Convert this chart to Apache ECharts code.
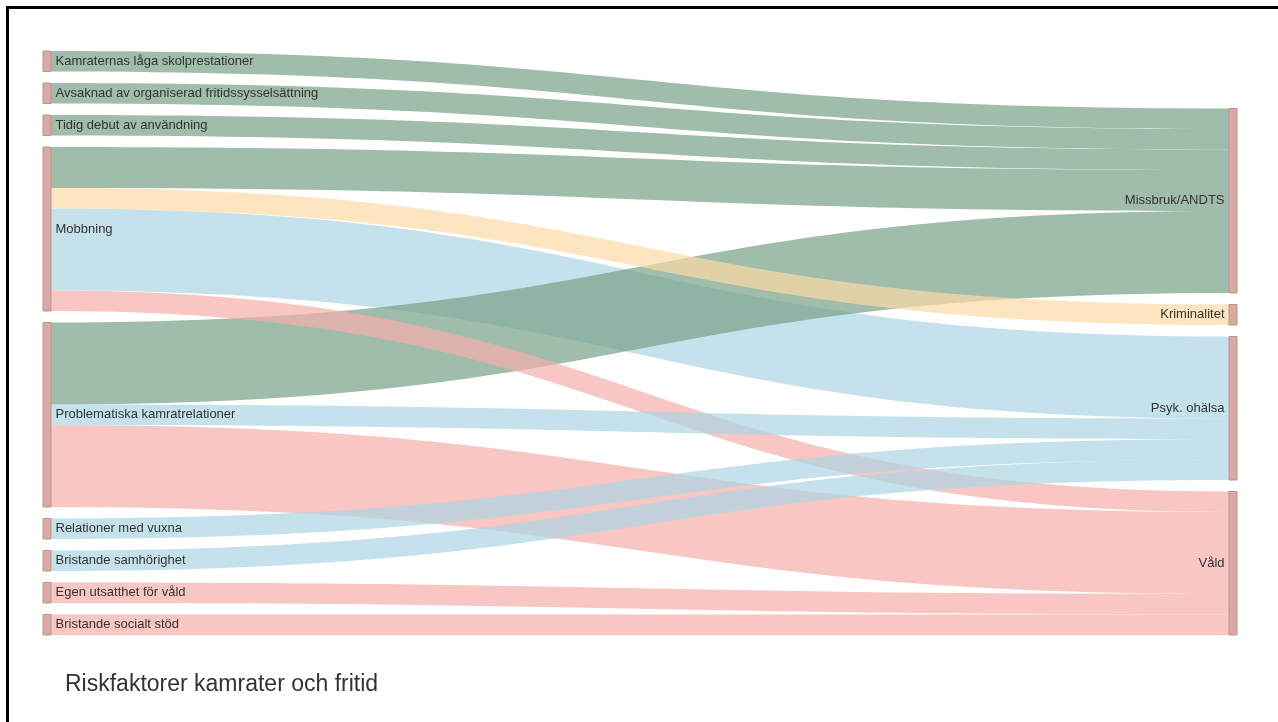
<!DOCTYPE html>
<html>
<head>
<meta charset="utf-8">
<script src="https://cdn.jsdelivr.net/npm/echarts@6/dist/echarts.min.js"></script>
<style>
  html, body { margin: 0; padding: 0; background: #fff; }
  #chart { position: absolute; left: 0; top: 0; width: 1278px; height: 722px; }
  #frame { position: absolute; left: 6px; top: 6px; width: 1400px; height: 800px;
           border-left: 3px solid #000; border-top: 3px solid #000; pointer-events: none; }
</style>
</head>
<body>
<div id="chart"></div>
<div id="frame"></div>
<script>
// Left-hand risk factors (in order) and right-hand outcomes
const riskFactors = [
  'Kamraternas låga skolprestationer',
  'Avsaknad av organiserad fritidssysselsättning',
  'Tidig debut av användning',
  'Mobbning',
  'Problematiska kamratrelationer',
  'Relationer med vuxna',
  'Bristande samhörighet',
  'Egen utsatthet för våld',
  'Bristande socialt stöd'
];
const outcomes = ['Missbruk/ANDTS', 'Kriminalitet', 'Psyk. ohälsa', 'Våld'];
const outcomeColors = ['#779f87', '#fcdaa5', '#acd6e4', '#f5afab'];

// Links (drawing order): source, target, value
const linkSources = [
  'Mobbning',
  'Kamraternas låga skolprestationer',
  'Avsaknad av organiserad fritidssysselsättning',
  'Tidig debut av användning',
  'Mobbning',
  'Problematiska kamratrelationer',
  'Mobbning',
  'Mobbning',
  'Problematiska kamratrelationer',
  'Problematiska kamratrelationer',
  'Relationer med vuxna',
  'Bristande samhörighet',
  'Egen utsatthet för våld',
  'Bristande socialt stöd'
];
const linkTargets = [
  'Psyk. ohälsa',
  'Missbruk/ANDTS',
  'Missbruk/ANDTS',
  'Missbruk/ANDTS',
  'Missbruk/ANDTS',
  'Missbruk/ANDTS',
  'Kriminalitet',
  'Våld',
  'Våld',
  'Psyk. ohälsa',
  'Psyk. ohälsa',
  'Psyk. ohälsa',
  'Våld',
  'Våld'
];
const linkValues = [4, 1, 1, 1, 2, 4, 1, 1, 4, 1, 1, 1, 1, 1];

const titleText = 'Riskfaktorer kamrater och fritid';

const nodes = riskFactors.map(n => ({ name: n }))
  .concat(outcomes.map(n => ({ name: n, label: { position: 'left' } })));

const links = linkSources.map((s, i) => ({
  source: s,
  target: linkTargets[i],
  value: linkValues[i],
  lineStyle: { color: outcomeColors[outcomes.indexOf(linkTargets[i])] }
}));

const chart = echarts.init(document.getElementById('chart'), null, { renderer: 'canvas' });
chart.setOption({
  animation: false,
  backgroundColor: '#fff',
  title: {
    text: titleText,
    left: 60,
    top: 668,
    textStyle: {
      fontSize: 23,
      fontWeight: 'normal',
      color: '#333',
      fontFamily: 'Liberation Sans, Arial, sans-serif'
    }
  },
  series: [{
    type: 'sankey',
    left: 43,
    right: 41,
    top: 51,
    bottom: 87,
    nodeWidth: 8,
    nodeGap: 11.5,
    draggable: false,
    emphasis: { disabled: true },
    data: nodes,
    links: links,
    itemStyle: {
      color: '#dba9a4',
      borderColor: '#b89590',
      borderWidth: 1
    },
    lineStyle: {
      opacity: 0.7,
      curveness: 0.5
    },
    label: {
      position: 'right',
      distance: 4,
      fontSize: 13,
      color: '#333',
      fontFamily: 'Liberation Sans, Arial, sans-serif'
    }
  }]
});
</script>
</body>
</html>
